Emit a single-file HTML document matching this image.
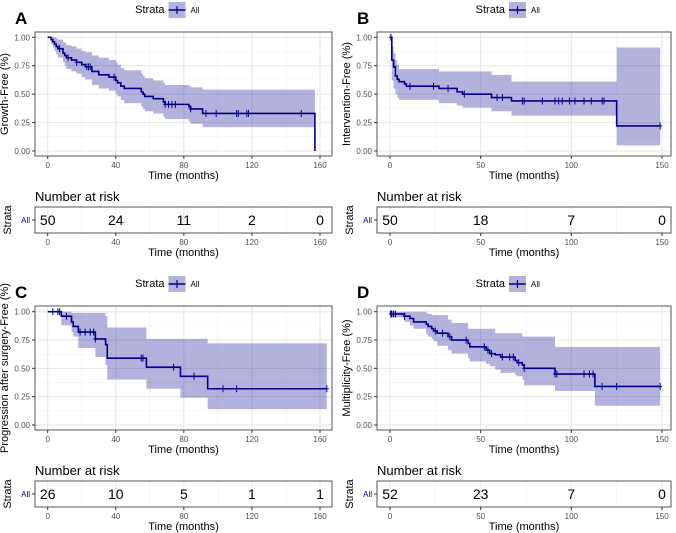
<!DOCTYPE html>
<html><head><meta charset="utf-8"><style>
body{margin:0;background:#fff}
svg{display:block;font-family:"Liberation Sans",sans-serif}
</style></head><body>
<svg id="fig" width="676" height="533" viewBox="0 0 676 533" xmlns="http://www.w3.org/2000/svg"></svg>
<script>
// ---- Panel A data ----
const aTimes=[0,2,3,4,5,6,9,10,11,14,17,20,22,26,30,36,40,41,43,45,55,56,57,62,68,69,83,84,91,157];
const aSurv=[1,0.98,0.96,0.94,0.92,0.90,0.86,0.84,0.82,0.80,0.78,0.76,0.74,0.70,0.67,0.65,0.62,0.60,0.57,0.55,0.52,0.50,0.48,0.46,0.43,0.41,0.39,0.37,0.33,0];
const aLower=[1,0.94,0.91,0.88,0.85,0.82,0.78,0.75,0.72,0.70,0.68,0.65,0.63,0.58,0.55,0.53,0.50,0.48,0.45,0.42,0.39,0.37,0.35,0.33,0.30,0.28,0.26,0.24,0.21,0.21];
const aUpper=[1,1,1,1,0.99,0.98,0.96,0.95,0.93,0.92,0.90,0.88,0.87,0.84,0.82,0.80,0.78,0.76,0.73,0.71,0.68,0.66,0.64,0.62,0.60,0.58,0.57,0.56,0.54,0.54];
const aCensor=[7,12,17,23,24,25,39,69,71,73,75,84,93,99,111,112,117,118,149];
const aRiskTimes=[0,40,80,120,160];
const aRisk=[50,24,11,2,0];
// ---- Panel B data ----
const bTimes=[0,1,2,3,4,5,8,9,27,37,40,56,67,125];
const bSurv=[1,0.80,0.74,0.66,0.63,0.61,0.59,0.57,0.55,0.52,0.50,0.47,0.44,0.22];
const bLower=[1,0.62,0.55,0.50,0.47,0.45,0.45,0.45,0.42,0.40,0.38,0.35,0.31,0.05];
const bUpper=[1,0.92,0.86,0.80,0.76,0.72,0.72,0.72,0.70,0.70,0.70,0.67,0.61,0.91];
const bCensor=[0.5,11,24,32,41,59,62,73,74,84,91,93,95,99,102,107,111,117,118,149];
const bRiskTimes=[0,50,100,150];
const bRisk=[50,18,7,0];
// ---- Panel C data ----
const cTimes=[0,8,14,15,18,28,34,35,58,78,94];
const cSurv=[1,0.96,0.91,0.87,0.82,0.76,0.71,0.59,0.51,0.43,0.32];
const cLower=[1,0.88,0.82,0.78,0.68,0.60,0.53,0.40,0.32,0.24,0.14];
const cUpper=[1,1,0.99,0.99,0.99,0.99,0.96,0.86,0.76,0.76,0.72];
const cCensor=[3,6,7,11,19,22,25,27,28,55,56,74,86,103,111,164];
const cRiskTimes=[0,40,80,120,160];
const cRisk=[26,10,5,1,1];
// ---- Panel D data ----
const dTimes=[0,0.5,8,11,13,20,21,23,24,26,32,34,43,44,53,55,58,61,69,70,73,74,91,113];
const dSurv=[1,0.98,0.96,0.94,0.91,0.89,0.87,0.85,0.83,0.81,0.78,0.75,0.72,0.69,0.66,0.63,0.62,0.60,0.57,0.55,0.53,0.50,0.45,0.34];
const dLower=[1,0.95,0.91,0.88,0.85,0.80,0.78,0.76,0.74,0.70,0.66,0.63,0.59,0.56,0.54,0.52,0.49,0.46,0.44,0.43,0.40,0.35,0.30,0.17];
const dUpper=[1,1,1,1,1,0.99,0.98,0.97,0.97,0.97,0.93,0.90,0.85,0.85,0.85,0.85,0.81,0.81,0.81,0.81,0.78,0.78,0.69,0.69];
const dCensor=[0.5,1,2,3,8,25,29,33,42,52,54,56,62,66,68,71,74,91,92,107,110,112,117,125,149];
const dRiskTimes=[0,50,100,150];
const dRisk=[52,23,7,0];

const NS="http://www.w3.org/2000/svg";
const svg=document.getElementById('fig');
function mk(tag,attrs,parent,text){const e=document.createElementNS(NS,tag);for(const k in attrs)e.setAttribute(k,attrs[k]);if(text!==undefined)e.textContent=text;(parent||svg).appendChild(e);return e;}

function panel(L,letter,ytitle,T,S,LO,HI,CEN,endT,RT,RN){
  const X=t=>L.x0+(t/L.xmax)*(L.x1-L.x0);
  const Y=s=>L.y0-s*(L.y0-L.y1);
  const g=mk('g',{});
  
  
  // letter
  const lt=mk('text',{x:L.px-20,y:L.py-8,'font-size':17,'font-weight':'bold',fill:'#000'},g,letter);
  
  
  // legend
  const cx=L.px+L.pw/2;
  const lg=mk('g',{},g);
  
  
  mk('text',{x:cx-19,y:L.py-19,'font-size':11,'text-anchor':'end',fill:'#000'},lg,'Strata');
  mk('rect',{x:cx-15,y:L.py-30,width:17,height:16,fill:'#00008b','fill-opacity':0.3},lg);
  mk('line',{x1:cx-15,x2:cx+2,y1:L.py-22,y2:L.py-22,stroke:'#00008b','stroke-width':1.5},lg);
  mk('line',{x1:cx-6.5,x2:cx-6.5,y1:L.py-26,y2:L.py-18,stroke:'#00008b','stroke-width':1.2},lg);
  const le=mk('text',{x:cx+7,y:L.py-19,'font-size':8,fill:'#000'},lg,'All');
  
  
  // plot bg + grid
  mk('rect',{x:L.px,y:L.py,width:L.pw,height:L.ph,fill:'#fff'},g);
  const ticks=L.ticks;
  for(let i=0;i<ticks.length-1;i++){const m=(ticks[i]+ticks[i+1])/2;mk('line',{x1:X(m),x2:X(m),y1:L.py,y2:L.py+L.ph,stroke:'#f2f2f2','stroke-width':0.6},g);}
  [0.125,0.375,0.625,0.875].forEach(v=>mk('line',{x1:L.px,x2:L.px+L.pw,y1:Y(v),y2:Y(v),stroke:'#f2f2f2','stroke-width':0.6},g));
  ticks.forEach(t=>mk('line',{x1:X(t),x2:X(t),y1:L.py,y2:L.py+L.ph,stroke:'#e6e6e6','stroke-width':1},g));
  [0,0.25,0.5,0.75,1].forEach(v=>mk('line',{x1:L.px,x2:L.px+L.pw,y1:Y(v),y2:Y(v),stroke:'#e6e6e6','stroke-width':1},g));
  // band
  let up='',lo='';
  for(let i=0;i<T.length;i++){
    const t1=(i+1<T.length)?T[i+1]:endT;
    up+=`${X(T[i])},${Y(HI[i])} ${X(t1)},${Y(HI[i])} `;
  }
  for(let i=T.length-1;i>=0;i--){
    const t1=(i+1<T.length)?T[i+1]:endT;
    lo+=`${X(t1)},${Y(LO[i])} ${X(T[i])},${Y(LO[i])} `;
  }
  const band=mk('polygon',{points:up+lo,fill:'#00008b','fill-opacity':0.3,stroke:'none'},g);
  
  
  // curve
  let d=`M${X(T[0])},${Y(S[0])}`;
  for(let i=1;i<T.length;i++){d+=` H${X(T[i])} V${Y(S[i])}`;}
  d+=` H${X(endT)}`;
  const cur=mk('path',{d:d,fill:'none',stroke:'#00008b','stroke-width':1.6},g);
  
  
  const sAt=t=>{let s=S[0];for(let i=0;i<T.length;i++){if(T[i]<=t)s=S[i];}return s;};
  CEN.forEach(t=>{
    const c=mk('path',{d:`M${X(t)},${Y(sAt(t))-3.5}v7M${X(t)-2},${Y(sAt(t))}h4`,stroke:'#00008b','stroke-width':1,fill:'none'},g);
    
    
  });
  mk('rect',{x:L.px,y:L.py,width:L.pw,height:L.ph,fill:'none',stroke:'#555','stroke-width':1},g);
  // axes
  [0,0.25,0.5,0.75,1].forEach(v=>{
    mk('line',{x1:L.px-3,x2:L.px,y1:Y(v),y2:Y(v),stroke:'#333'},g);
    mk('text',{x:L.px-5,y:Y(v)+3,'font-size':8,'text-anchor':'end',fill:'#4d4d4d'},g,v.toFixed(2));
  });
  ticks.forEach(t=>{
    mk('line',{x1:X(t),x2:X(t),y1:L.py+L.ph,y2:L.py+L.ph+3,stroke:'#333'},g);
    mk('text',{x:X(t),y:L.py+L.ph+12,'font-size':8,'text-anchor':'middle',fill:'#4d4d4d'},g,String(t));
  });
  const xt=mk('text',{x:cx,y:L.py+L.ph+23,'font-size':11,'text-anchor':'middle',fill:'#000'},g,'Time (months)');
  
  
  const ycy=L.py+L.ph/2;
  const yt=mk('text',{x:L.px-27,y:ycy,'font-size':11,'text-anchor':'middle',fill:'#000',transform:`rotate(-90 ${L.px-27} ${ycy})`},g,ytitle);
  
  
  // risk table
  const ry=L.py+L.ph+51, rh=26;
  const rt=mk('g',{},g);
  
  
  mk('text',{x:L.px,y:ry-6,'font-size':13,fill:'#000'},rt,'Number at risk');
  mk('rect',{x:L.px,y:ry,width:L.pw,height:rh,fill:'#fff'},rt);
  ticks.forEach(t=>mk('line',{x1:X(t),x2:X(t),y1:ry,y2:ry+rh,stroke:'#ececec'},rt));
  for(let i=0;i<ticks.length-1;i++){const m=(ticks[i]+ticks[i+1])/2;mk('line',{x1:X(m),x2:X(m),y1:ry,y2:ry+rh,stroke:'#f4f4f4'},rt);}
  mk('rect',{x:L.px,y:ry,width:L.pw,height:rh,fill:'none',stroke:'#555'},rt);
  RT.forEach((t,i)=>{
    const n=mk('text',{x:X(t),y:ry+rh/2+5,'font-size':14,'text-anchor':'middle',fill:'#000'},rt,String(RN[i]));
    
    
    mk('line',{x1:X(t),x2:X(t),y1:ry+rh,y2:ry+rh+3,stroke:'#333'},rt);
    mk('text',{x:X(t),y:ry+rh+12,'font-size':8,'text-anchor':'middle',fill:'#4d4d4d'},rt,String(t));
  });
  mk('line',{x1:L.px-3,x2:L.px,y1:ry+rh/2,y2:ry+rh/2,stroke:'#333'},rt);
  mk('text',{x:L.px-5,y:ry+rh/2+3,'font-size':8,'text-anchor':'end',fill:'#00008b'},rt,'All');
  const scy=ry+rh/2;
  mk('text',{x:L.px-24,y:scy,'font-size':11,'text-anchor':'middle',fill:'#000',transform:`rotate(-90 ${L.px-24} ${scy})`},rt,'Strata');
  mk('text',{x:cx,y:ry+rh+23,'font-size':11,'text-anchor':'middle',fill:'#000'},rt,'Time (months)');
}
panel({px:35,pw:297,py:32,ph:124,x0:47.7,x1:320,xmax:160,y1:37.3,y0:151,ticks:[0,40,80,120,160]},'A','Growth-Free (%)',aTimes,aSurv,aLower,aUpper,aCensor,157,aRiskTimes,aRisk);
panel({px:377,pw:294,py:32,ph:124,x0:390,x1:662,xmax:150,y1:37.3,y0:151,ticks:[0,50,100,150]},'B','Intervention-Free (%)',bTimes,bSurv,bLower,bUpper,bCensor,149,bRiskTimes,bRisk);
panel({px:35,pw:297,py:306,ph:124,x0:47.7,x1:320,xmax:160,y1:311.7,y0:425,ticks:[0,40,80,120,160]},'C','Progression after surgery-Free (%)',cTimes,cSurv,cLower,cUpper,cCensor,164,cRiskTimes,cRisk);
panel({px:377,pw:294,py:306,ph:124,x0:390,x1:662,xmax:150,y1:311.7,y0:425,ticks:[0,50,100,150]},'D','Multiplicity-Free (%)',dTimes,dSurv,dLower,dUpper,dCensor,149,dRiskTimes,dRisk);
</script>
</body></html>
